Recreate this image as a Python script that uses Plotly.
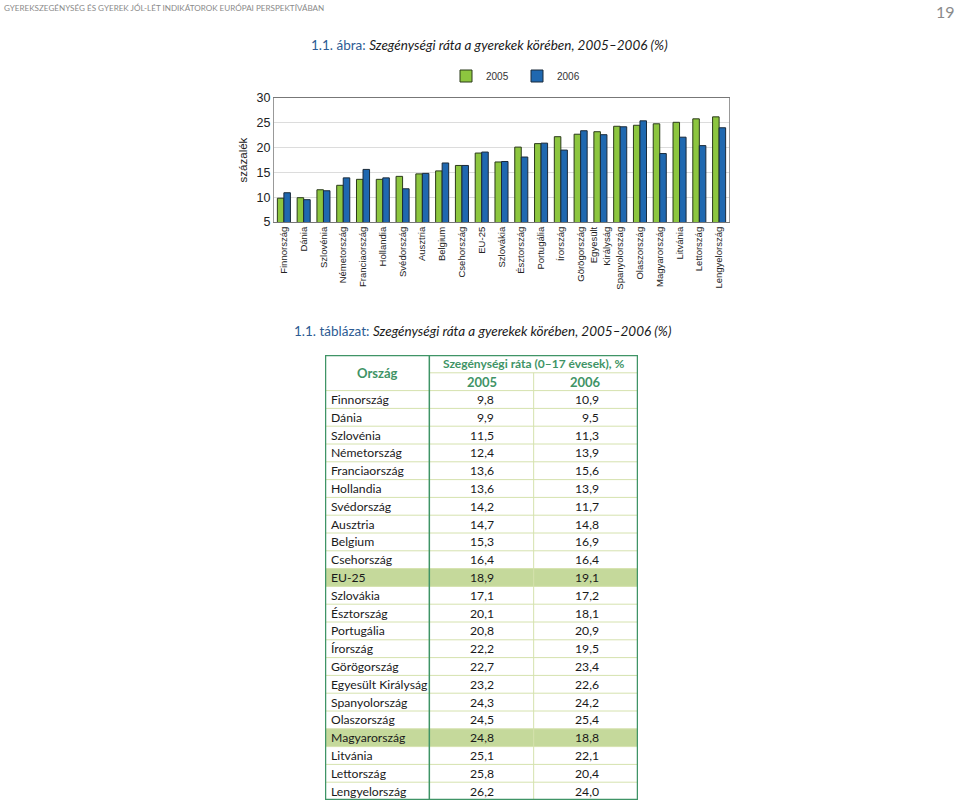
import plotly.graph_objects as go

countries = ["Finnország", "Dánia", "Szlovénia", "Németország", "Franciaország", "Hollandia",
             "Svédország", "Ausztria", "Belgium", "Csehország", "EU-25", "Szlovákia",
             "Észtország", "Portugália", "Írország", "Görögország", "Egyesült Királyság",
             "Spanyolország", "Olaszország", "Magyarország", "Litvánia", "Lettország",
             "Lengyelország"]
chart_labels = [c.replace("Egyesült Királyság", "Egyesült<br>Királyság") for c in countries]
v2005 = [9.8, 9.9, 11.5, 12.4, 13.6, 13.6, 14.2, 14.7, 15.3, 16.4, 18.9, 17.1, 20.1, 20.8,
         22.2, 22.7, 23.2, 24.3, 24.5, 24.8, 25.1, 25.8, 26.2]
v2006 = [10.9, 9.5, 11.3, 13.9, 15.6, 13.9, 11.7, 14.8, 16.9, 16.4, 19.1, 17.2, 18.1, 20.9,
         19.5, 23.4, 22.6, 24.2, 25.4, 18.8, 22.1, 20.4, 24.0]
years = ["2005", "2006"]
highlight = ["EU-25", "Magyarország"]

W, H = 960, 805
def px(x): return x / W
def py(y): return 1 - y / H

GREEN = "#8dc63f"
BLUE = "#1f68b0"
TGREEN = "#3f9466"
LIGHT = "#d5e2ae"
HL = "#c5d99b"
TITLEBLUE = "#2d5b93"
FONT = "Liberation Sans"
TFONT = "Lato"

fig = go.Figure()
fig.add_trace(go.Bar(x=chart_labels, y=v2005, name=years[0],
                     marker=dict(color=GREEN, line=dict(color="#2b3a1a", width=1))))
fig.add_trace(go.Bar(x=chart_labels, y=v2006, name=years[1],
                     marker=dict(color=BLUE, line=dict(color="#1a2a3a", width=1))))

nrows = 2 + len(countries)
shapes = []
annotations = []
cfont = dict(family=TFONT, size=12.2, color="#1a1a1a")
for i, c in enumerate(countries):
    r = i + 2
    if c in highlight:
        shapes.append(dict(type="rect", xref="x2", yref="y2", x0=0, x1=3, y0=r, y1=r + 1,
                           fillcolor=HL, line=dict(width=0), layer="below"))
    annotations.append(dict(xref="x2", yref="y2", x=0.035, y=r + 0.5, text=c, showarrow=False,
                            xanchor="left", yanchor="middle", font=cfont))
    annotations.append(dict(xref="x2", yref="y2", x=1.64, y=r + 0.5,
                            text=f"{v2005[i]:.1f}".replace(".", ","), showarrow=False,
                            xanchor="right", yanchor="middle", font=cfont))
    annotations.append(dict(xref="x2", yref="y2", x=2.65, y=r + 0.5,
                            text=f"{v2006[i]:.1f}".replace(".", ","), showarrow=False,
                            xanchor="right", yanchor="middle", font=cfont))
for k in range(2, nrows):
    shapes.append(dict(type="line", xref="x2", yref="y2", x0=0, x1=3, y0=k, y1=k,
                       line=dict(color=LIGHT, width=1)))
shapes.append(dict(type="line", xref="x2", yref="y2", x0=1, x1=3, y0=1, y1=1,
                   line=dict(color=LIGHT, width=1)))
shapes.append(dict(type="line", xref="x2", yref="y2", x0=2, x1=2, y0=1, y1=nrows,
                   line=dict(color=LIGHT, width=1)))
shapes.append(dict(type="line", xref="x2", yref="y2", x0=1, x1=1, y0=0, y1=nrows,
                   line=dict(color=TGREEN, width=1.5)))
shapes.append(dict(type="rect", xref="x2", yref="y2", x0=0, x1=3, y0=0, y1=nrows,
                   line=dict(color=TGREEN, width=2.5)))

hfont = dict(family=TFONT, size=12, color=TGREEN)
annotations += [
    dict(xref="x2", yref="y2", x=0.5, y=1, text="<b>Ország</b>", showarrow=False,
         font=dict(family=TFONT, size=13, color=TGREEN)),
    dict(xref="x2", yref="y2", x=2, y=0.5, text="<b>Szegénységi ráta (0–17 évesek), %</b>",
         showarrow=False, font=hfont),
    dict(xref="x2", yref="y2", x=1.5, y=1.5, text=f"<b>{years[0]}</b>", showarrow=False,
         font=dict(family=TFONT, size=13, color=TGREEN)),
    dict(xref="x2", yref="y2", x=2.5, y=1.5, text=f"<b>{years[1]}</b>", showarrow=False,
         font=dict(family=TFONT, size=13, color=TGREEN)),
    dict(xref="paper", yref="paper", x=px(2), y=py(8),
         text="GYEREKSZEGÉNYSÉG ÉS GYEREK JÓL-LÉT INDIKÁTOROK EURÓPAI PERSPEKTÍVÁBAN",
         showarrow=False, xanchor="left", yanchor="middle",
         font=dict(family=TFONT, size=8.1, color="#8a8a8a")),
    dict(xref="paper", yref="paper", x=px(957), y=py(12), text="19", showarrow=False,
         xanchor="right", yanchor="middle", font=dict(family=TFONT, size=16, color="#8a8a8a")),
    dict(xref="paper", yref="paper", x=px(490), y=py(45),
         text=f"<span style='color:{TITLEBLUE}'>1.1. ábra:</span> <i>Szegénységi ráta a gyerekek körében, 2005–2006 (%)</i>",
         showarrow=False, xanchor="center", yanchor="middle",
         font=dict(family=TFONT, size=13.5, color="#1a1a1a")),
    dict(xref="paper", yref="paper", x=px(482), y=py(331),
         text=f"<span style='color:{TITLEBLUE}'>1.1. táblázat:</span> <i>Szegénységi ráta a gyerekek körében, 2005–2006 (%)</i>",
         showarrow=False, xanchor="center", yanchor="middle",
         font=dict(family=TFONT, size=13.5, color="#1a1a1a")),
]

fig.update_layout(
    width=W, height=H, margin=dict(l=0, r=0, t=0, b=0, autoexpand=False),
    paper_bgcolor="white", plot_bgcolor="white",
    barmode="group", bargap=0.34, bargroupgap=0,
    font=dict(family=FONT, color="#222"),
    legend=dict(orientation="h", x=px(446), xanchor="left", y=py(76), yanchor="middle",
                font=dict(family=FONT, size=10, color="#333"), itemwidth=30,
                entrywidth=26, entrywidthmode="pixels", traceorder="normal"),
    xaxis=dict(domain=[px(274), px(729)], tickangle=-90, tickfont=dict(size=9.5, color="#222"),
               showline=True, linecolor="#777", linewidth=1, mirror=True, ticks="", automargin=False),
    yaxis=dict(domain=[py(222), py(98)], range=[5, 30], dtick=5, tickfont=dict(size=12.5, color="#222"),
               showgrid=True, gridcolor="#dcdcdc", showline=True, linecolor="#999", mirror=True,
               ticks="", automargin=False,
               title=dict(text="százalék", font=dict(size=11.5, color="#222"), standoff=6)),
    xaxis2=dict(domain=[px(325), px(638)], range=[0, 3], visible=False, anchor="y2"),
    yaxis2=dict(domain=[py(800), py(355)], range=[nrows, 0], visible=False, anchor="x2"),
    shapes=shapes, annotations=annotations,
)
fig.write_html("out.html", config={"displayModeBar": False},
               post_script="document.body.style.margin='0';document.body.style.overflow='hidden';")
